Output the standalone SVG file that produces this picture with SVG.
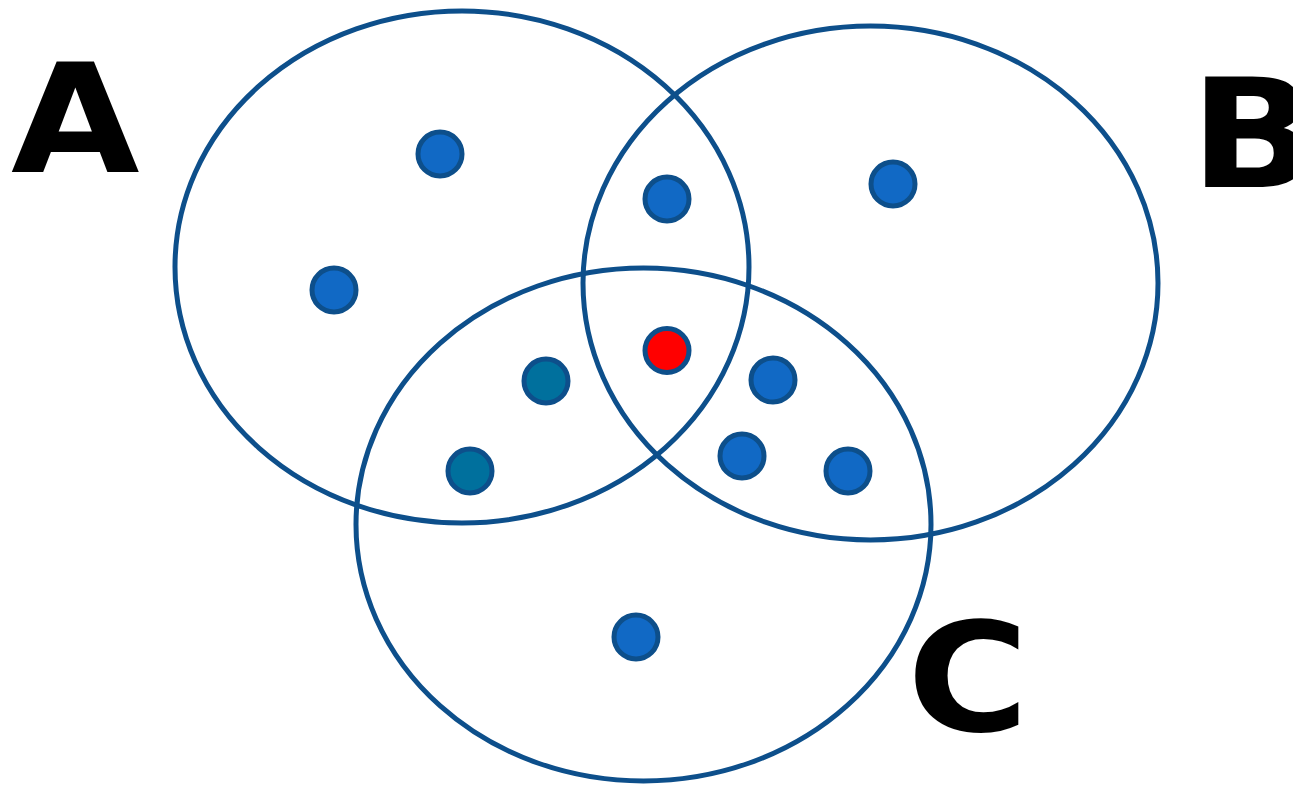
<svg xmlns="http://www.w3.org/2000/svg" width="1293" height="785" viewBox="0 0 1293 785">
<style>
.set{fill:none;stroke:#0d4f8b;stroke-width:5}
.dot{fill:#1169c5;stroke:#0d4f8b;stroke-width:5}
.teal{fill:#00709d;stroke:#0d4f8b;stroke-width:5}
.red{fill:#ff0000;stroke:#0d4f8b;stroke-width:5}
.lbl{font-family:"DejaVu Sans",sans-serif;font-weight:bold;font-size:151px;fill:#000}
</style>
<rect width="1293" height="785" fill="#fff"/>
<g id="sets">
<ellipse id="setA" class="set" cx="462" cy="267" rx="287" ry="256"/>
<ellipse id="setB" class="set" cx="870.5" cy="283" rx="287.5" ry="257"/>
<ellipse id="setC" class="set" cx="643.5" cy="524.5" rx="287.5" ry="256.5"/>
</g>
<g id="labels">
<text id="labelA" class="lbl" transform="translate(11,172) scale(1.1,1)">A</text>
<text id="labelB" class="lbl" transform="translate(1190,187) scale(1.1,1)">B</text>
<text id="labelC" class="lbl" transform="translate(907,731) scale(1.1,1)">C</text>
</g>
<g id="dots">
<circle class="dot" cx="440" cy="154" r="22"/>
<circle class="dot" cx="334" cy="290" r="22"/>
<circle class="dot" cx="667" cy="199" r="22"/>
<circle class="dot" cx="893" cy="184" r="22"/>
<circle class="red" cx="667" cy="350.5" r="22"/>
<circle class="teal" cx="546" cy="381" r="22"/>
<circle class="teal" cx="470" cy="471" r="22"/>
<circle class="dot" cx="773" cy="380" r="22"/>
<circle class="dot" cx="742" cy="456" r="22"/>
<circle class="dot" cx="848" cy="471" r="22"/>
<circle class="dot" cx="636" cy="637" r="22"/>
</g>
</svg>
